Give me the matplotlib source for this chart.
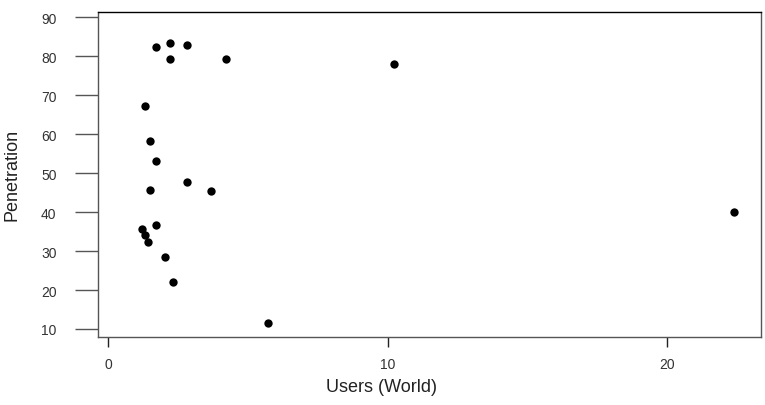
import matplotlib
matplotlib.use("Agg")
from matplotlib import pyplot as plt

plt.rcParams['font.family'] = ['Liberation Sans', 'DejaVu Sans']

users = [1.69, 2.21, 2.81, 2.21, 4.21, 10.23, 1.30, 1.51, 1.69, 2.81,
         1.51, 3.68, 22.40, 1.70, 1.21, 1.32, 1.42, 2.02, 2.30, 5.70]
penetration = [82.3, 83.5, 82.9, 79.4, 79.4, 78.0, 67.2, 58.3, 53.2, 47.8,
               45.7, 45.5, 40.0, 36.6, 35.7, 34.1, 32.4, 28.5, 22.1, 11.6]

x_ticks = [0, 10, 20]
y_ticks = [10, 20, 30, 40, 50, 60, 70, 80, 90]

fig = plt.figure(figsize=(7.65, 4.06), dpi=100)
ax = fig.add_axes([0.1277, 0.1687, 0.8671, 0.7985])

ax.plot(users, penetration, 'o', color='black', markersize=6, markeredgewidth=0)

ax.set_xlim(-0.38, 23.37)
ax.set_ylim(8.07, 91.28)
ax.set_xticks(x_ticks)
ax.set_yticks(y_ticks)

ax.tick_params(axis='x', length=7.4, width=1.0, color='#222222', pad=7,
               labelsize=10, labelcolor='#333333')
ax.tick_params(axis='y', length=16.6, width=1.0, color='#555555', pad=13,
               labelsize=10, labelcolor='#333333')

for side in ['left', 'bottom', 'right']:
    ax.spines[side].set_color('#555555')
ax.spines['top'].set_color('black')
for sp in ax.spines.values():
    sp.set_linewidth(1.0)

ax.set_xlabel('Users (World)', fontsize=13, color='#222222')
ax.set_ylabel('Penetration', fontsize=13, color='#222222')
ax.xaxis.set_label_coords(0.4285, -0.127)
ax.yaxis.set_label_coords(-0.117, 0.5)

fig.savefig('out.png', dpi=100)
